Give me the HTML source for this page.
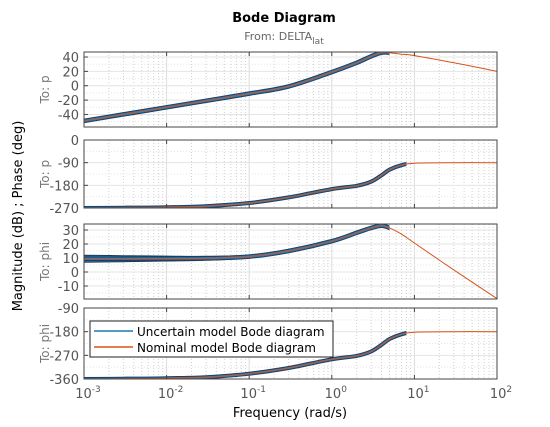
<!DOCTYPE html>
<html><head><meta charset="utf-8"><style>
body{margin:0;background:#fff;}
svg{display:block;font-family:"DejaVu Sans","Liberation Sans",sans-serif;}
</style></head><body>
<svg id="c" width="550" height="427" viewBox="0 0 550 427">
<text x="284" y="22" text-anchor="middle" font-weight="bold" font-size="13" fill="#000">Bode Diagram</text>
<text x="284" y="40" text-anchor="middle" font-size="11" fill="#666">From: DELTA<tspan font-size="9" dy="4">lat</tspan></text>
<text transform="translate(22,216) rotate(-90)" text-anchor="middle" font-size="13" fill="#000">Magnitude (dB) ; Phase (deg)</text>
<text x="290" y="417" text-anchor="middle" font-size="13" fill="#000">Frequency  (rad/s)</text>
</svg>
<script>
const freqs=[0.001,0.003,0.01,0.03,0.1,0.3,1,2,3,4,5,7,10,30,100];
const magP=[-49,-40,-30,-21,-11,-1,19,32,41,46,46,44,42,32,20];
const phaseP=[-270,-269,-267,-263,-250,-228,-195,-182,-165,-140,-118,-100,-92,-90,-90];
const magPhi=[9.5,9.5,9.6,9.8,11,15,22,28,31.5,33,31.5,27,20.7,1.5,-19];
const phasePhi=[-360,-359,-357,-353,-340,-318,-285,-272,-255,-230,-208,-190,-182,-180,-180];
const xTicks=[-3,-2,-1,0,1,2];
const panels=[
 {name:'to-p-magnitude',label:'To: p',top:52,bot:127,ymin:-57.5,ymax:47,ticks:[40,20,0,-20,-40],data:magP,bw:3,cut:5},
 {name:'to-p-phase',label:'To: p',top:140,bot:208,ymin:-270,ymax:0,ticks:[0,-90,-180,-270],data:phaseP,bw:2.5,cut:8},
 {name:'to-phi-magnitude',label:'To: phi',top:224,bot:299,ymin:-19.3,ymax:34.3,ticks:[30,20,10,0,-10],data:magPhi,bw:3,wide:true,cut:5},
 {name:'to-phi-phase',label:'To: phi',top:308,bot:379,ymin:-360,ymax:-90,ticks:[-90,-180,-270,-360],data:phasePhi,bw:2.5,cut:8}
];
const NS='http://www.w3.org/2000/svg',svg=document.getElementById('c');
const L=84,R=497;
const xs=f=>L+(Math.log10(f)+3)/5*(R-L);
function mk(t,a,p){const e=document.createElementNS(NS,t);for(const k in a)e.setAttribute(k,a[k]);(p||svg).appendChild(e);return e;}
function smooth(pts){let d='M'+pts[0][0].toFixed(1)+','+pts[0][1].toFixed(1);
 for(let i=0;i<pts.length-1;i++){const p0=pts[Math.max(0,i-1)],p1=pts[i],p2=pts[i+1],p3=pts[Math.min(pts.length-1,i+2)];
  const c1=[p1[0]+(p2[0]-p0[0])/6,p1[1]+(p2[1]-p0[1])/6],c2=[p2[0]-(p3[0]-p1[0])/6,p2[1]-(p3[1]-p1[1])/6];
  d+=`C${c1[0].toFixed(1)},${c1[1].toFixed(1)} ${c2[0].toFixed(1)},${c2[1].toFixed(1)} ${p2[0].toFixed(1)},${p2[1].toFixed(1)}`;}
 return d;}
panels.forEach((P,pi)=>{
 const g=mk('g',{});
 
 
 const ys=v=>P.bot-(v-P.ymin)/(P.ymax-P.ymin)*(P.bot-P.top);
 mk('rect',{x:L,y:P.top,width:R-L,height:P.bot-P.top,fill:'#fff'},g);
 for(let d=-3;d<2;d++)for(let m=2;m<10;m++){const x=xs(m*Math.pow(10,d));mk('line',{x1:x,x2:x,y1:P.top,y2:P.bot,stroke:'#d0d0d0','stroke-dasharray':'1,2'},g);}
 xTicks.forEach(d=>{const x=xs(Math.pow(10,d));mk('line',{x1:x,x2:x,y1:P.top,y2:P.bot,stroke:'#dcdcdc'},g);});
 const step=P.ticks[0]-P.ticks[1];
 for(let v=P.ticks[P.ticks.length-1]-step;v<=P.ymax+step;v+=step/2){if(v<P.ymin||v>P.ymax)continue;const y=ys(v);mk('line',{x1:L,x2:R,y1:y,y2:y,stroke:'#e4e4e4','stroke-dasharray':(Math.round(v/step*2)%2)?'1,2':''},g);}
 P.ticks.forEach(v=>{const y=ys(v);const t=mk('text',{x:L-5,y:y+5,'text-anchor':'end','font-size':13,fill:'#555'},g);t.textContent=v;
  
  
  mk('line',{x1:L,x2:L+4,y1:y,y2:y,stroke:'#444'},g);});
 const lb=mk('text',{transform:`translate(49,${(P.top+P.bot)/2}) rotate(-90)`,'text-anchor':'middle','font-size':12,fill:'#777'},g);lb.textContent=P.label;
 
 
 const d=smooth(P.data.map((v,i)=>[xs(freqs[i]),ys(v)]));
 const cp=mk('clipPath',{id:'cp'+pi},g);mk('rect',{x:L,y:P.top,width:R-L,height:P.bot-P.top},cp);
 const cb=mk('clipPath',{id:'cb'+pi},g);mk('rect',{x:L,y:P.top-5,width:xs(P.cut)-L,height:P.bot-P.top+10},cb);
 const sg=mk('g',{'clip-path':`url(#cp${pi})`},g);
 const bg=mk('g',{'clip-path':`url(#cb${pi})`},sg);
 if(P.wide){const pts=[];const ptsB=[];freqs.forEach((f,i)=>{const w=Math.max(0,2.2*(1-Math.log10(f)-1)/3);pts.push([xs(f),ys(P.data[i]+w+0.3)]);ptsB.unshift([xs(f),ys(P.data[i]-w-0.3)]);});
  const poly=mk('path',{d:smooth(pts)+smooth(ptsB).replace('M','L')+'Z',fill:'#1f77b4',stroke:'#1a3c5a','stroke-width':1},bg);
  
  }
 mk('path',{d:d,fill:'none',stroke:'#1d3f5e','stroke-width':P.bw+1.5,'stroke-linejoin':'round'},bg);
 const u=mk('path',{d:d,fill:'none',stroke:'#1f7bc0','stroke-width':P.bw-0.5,'stroke-linejoin':'round'},bg);
 
 
 const n=mk('path',{d:d,fill:'none',stroke:'#d95319','stroke-width':1,'stroke-linejoin':'round'},sg);
 
 
 xTicks.forEach(dd=>{const x=xs(Math.pow(10,dd));mk('line',{x1:x,x2:x,y1:P.top,y2:P.top+4,stroke:'#444'},g);mk('line',{x1:x,x2:x,y1:P.bot,y2:P.bot-4,stroke:'#444'},g);});
 mk('rect',{x:L,y:P.top,width:R-L,height:P.bot-P.top,fill:'none',stroke:'#444','stroke-width':1},g);
});
xTicks.forEach(d=>{const t=mk('text',{x:xs(Math.pow(10,d))+4,y:398,'text-anchor':'middle','font-size':13,fill:'#555'});
 t.innerHTML='10<tspan font-size="9" dy="-6">'+(d<0?'-':'')+Math.abs(d)+'</tspan>';
 
 });
const lg=mk('g',{});


mk('rect',{x:90,y:321,width:243,height:36,fill:'#fff',stroke:'#222'},lg);
mk('line',{x1:94,x2:133,y1:331,y2:331,stroke:'#1f77b4','stroke-width':1.5},lg);
mk('line',{x1:94,x2:133,y1:347,y2:347,stroke:'#d95319','stroke-width':1.5},lg);
const t1=mk('text',{x:137,y:336,'font-size':12,fill:'#000'},lg);t1.textContent='Uncertain model Bode diagram';


const t2=mk('text',{x:137,y:352,'font-size':12,fill:'#000'},lg);t2.textContent='Nominal model Bode diagram';


</script>
</body></html>
